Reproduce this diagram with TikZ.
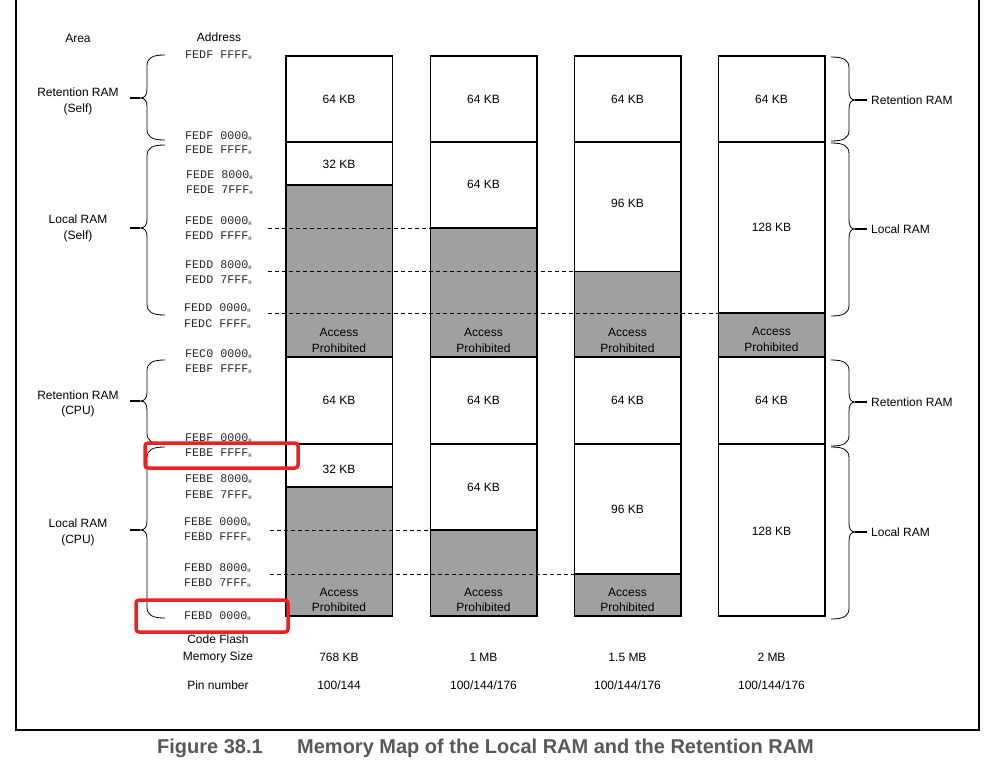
\documentclass[tikz,border=0pt]{standalone}
\usepackage{fontspec}
\setmainfont{Liberation Sans}
\newfontfamily\addrfont{Liberation Mono}
\usetikzlibrary{positioning}

\definecolor{prohibgray}{RGB}{160,160,160}
\definecolor{capgray}{RGB}{88,88,88}
\definecolor{markred}{RGB}{238,32,36}

% address with the small H suffix
\newcommand{\addr}[1]{#1\raisebox{-1pt}{\fontsize{5.5}{5.5}\selectfont H}}

% curly brace opening to the right (top, tip, bottom)
\newcommand{\mapbraceL}[3]{%
  \draw[curl] (165,#1) .. controls (152,#1) and (147,#1+3) .. (147,#1+11)
    -- (147,#2-9) .. controls (147,#2-3) and (145,#2) .. (140,#2)
    .. controls (145,#2) and (147,#2+3) .. (147,#2+9)
    -- (147,#3-11) .. controls (147,#3-3) and (152,#3) .. (165,#3);
  \draw[curl tail] (140,#2) -- (130,#2);}

% curly brace opening to the left (top, tip, bottom)
\newcommand{\mapbraceR}[3]{%
  \draw[curl] (831,#1) .. controls (844,#1) and (849,#1+3) .. (849,#1+11)
    -- (849,#2-9) .. controls (849,#2-3) and (851,#2) .. (855,#2)
    .. controls (851,#2) and (849,#2+3) .. (849,#2+9)
    -- (849,#3-11) .. controls (849,#3-3) and (844,#3) .. (831,#3);
  \draw[curl tail] (855,#2) -- (867,#2);}

\begin{document}
\begin{tikzpicture}[x=1pt, y=-1pt,
    every node/.style={font=\fontsize{12}{15.5}\selectfont, inner sep=0pt},
    ram/.style={draw, line width=1.2pt, fill=white},
    prohib/.style={draw, line width=1.2pt, fill=prohibgray},
    addrlab/.style={anchor=west, font=\fontsize{11.7}{14}\selectfont\addrfont, text=black!85},
    bound/.style={dash pattern=on 4pt off 3pt, line width=0.8pt},
    curl/.style={line width=0.8pt},
    curl tail/.style={line width=1.5pt},
    redmark/.style={draw=markred, line width=3.5pt, rounded corners=3pt}]
    \useasboundingbox (0,0) rectangle (999,771);

    % Frame
    \draw[line width=1.4pt] (16,-2) -- (16,730) -- (979,730) -- (979,-2);

    % Headings
    \node (area) at (78,38) {Area};
    \node (address) at (219,37) {Address};

    % Upper half: Self
    \draw[prohib] (286,185) rectangle (392.5,357);
    \draw[ram] (286,56) rectangle (392.5,142);
    \draw[ram] (286,142) rectangle (392.5,185);
    \draw[prohib] (430.5,228) rectangle (537,357);
    \draw[ram] (430.5,56) rectangle (537,142);
    \draw[ram] (430.5,142) rectangle (537,228);
    \draw[prohib] (574.5,271.5) rectangle (681,357);
    \draw[ram] (574.5,56) rectangle (681,142);
    \draw[ram] (574.5,142) rectangle (681,271.5);
    \draw[prohib] (718.5,313) rectangle (825,357);
    \draw[ram] (718.5,56) rectangle (825,142);
    \draw[ram] (718.5,142) rectangle (825,313);

    % Lower half: CPU
    \draw[prohib] (286,487) rectangle (392.5,616);
    \draw[ram] (286,357) rectangle (392.5,444);
    \draw[ram] (286,444) rectangle (392.5,487);
    \draw[prohib] (430.5,530) rectangle (537,616);
    \draw[ram] (430.5,357) rectangle (537,444);
    \draw[ram] (430.5,444) rectangle (537,530);
    \draw[prohib] (574.5,574) rectangle (681,616);
    \draw[ram] (574.5,357) rectangle (681,444);
    \draw[ram] (574.5,444) rectangle (681,574);
    \draw[ram] (718.5,357) rectangle (825,444);
    \draw[ram] (718.5,444) rectangle (825,616);

    % Dashed boundaries
    \draw[bound] (268,228) -- (430.5,228);
    \draw[bound] (268,271.5) -- (574.5,271.5);
    \draw[bound] (268,313) -- (718.5,313);
    \draw[bound] (270,530) -- (430.5,530);
    \draw[bound] (270,574) -- (574.5,574);

    % Sizes
    \node (ret1s) at (339,99) {64 KB};
    \node (ret2s) at (483.5,99) {64 KB};
    \node (ret3s) at (627.5,99) {64 KB};
    \node (ret4s) at (771.5,99) {64 KB};
    \node (loc1s) at (339,164) {32 KB};
    \node (loc2s) at (483.5,184) {64 KB};
    \node (loc3s) at (627.5,203) {96 KB};
    \node (loc4s) at (771.5,227) {128 KB};
    \node (ret1c) at (339,400) {64 KB};
    \node (ret2c) at (483.5,400) {64 KB};
    \node (ret3c) at (627.5,400) {64 KB};
    \node (ret4c) at (771.5,400) {64 KB};
    \node (loc1c) at (339,469) {32 KB};
    \node (loc2c) at (483.5,487) {64 KB};
    \node (loc3c) at (627.5,509) {96 KB};
    \node (loc4c) at (771.5,531) {128 KB};

    % Access prohibited labels
    \node[align=center] (ap1s) at (339,340.5) {Access\\Prohibited};
    \node[align=center] (ap2s) at (483.5,340.5) {Access\\Prohibited};
    \node[align=center] (ap3s) at (627.5,340.5) {Access\\Prohibited};
    \node[align=center] (ap4s) at (771.5,339.5) {Access\\Prohibited};
    \node[align=center] (ap1c) at (339,600) {Access\\Prohibited};
    \node[align=center] (ap2c) at (483.5,600) {Access\\Prohibited};
    \node[align=center] (ap3c) at (627.5,600) {Access\\Prohibited};

    % Addresses
    \node[addrlab] (a1) at (185,55) {\addr{FEDF FFFF}};
    \node[addrlab] (a2) at (185,136) {\addr{FEDF 0000}};
    \node[addrlab] (a3) at (185,150.5) {\addr{FEDE FFFF}};
    \node[addrlab] (a4) at (186,175) {\addr{FEDE 8000}};
    \node[addrlab] (a5) at (186,190) {\addr{FEDE 7FFF}};
    \node[addrlab] (a6) at (185,221) {\addr{FEDE 0000}};
    \node[addrlab] (a7) at (185,236) {\addr{FEDD FFFF}};
    \node[addrlab] (a8) at (185,265) {\addr{FEDD 8000}};
    \node[addrlab] (a9) at (185,280) {\addr{FEDD 7FFF}};
    \node[addrlab] (a10) at (184,308.5) {\addr{FEDD 0000}};
    \node[addrlab] (a11) at (184,324) {\addr{FEDC FFFF}};
    \node[addrlab] (a12) at (185,354) {\addr{FEC0 0000}};
    \node[addrlab] (a13) at (185,369) {\addr{FEBF FFFF}};
    \node[addrlab] (a14) at (185,438) {\addr{FEBF 0000}};
    \node[addrlab] (a15) at (185,453.5) {\addr{FEBE FFFF}};
    \node[addrlab] (a16) at (185,479.5) {\addr{FEBE 8000}};
    \node[addrlab] (a17) at (185,495.5) {\addr{FEBE 7FFF}};
    \node[addrlab] (a18) at (184,522.5) {\addr{FEBE 0000}};
    \node[addrlab] (a19) at (184,537) {\addr{FEBD FFFF}};
    \node[addrlab] (a20) at (184,568) {\addr{FEBD 8000}};
    \node[addrlab] (a21) at (184,583) {\addr{FEBD 7FFF}};
    \node[addrlab] (a22) at (184,616) {\addr{FEBD 0000}};

    % Area braces
    \mapbraceL{55}{98}{140}
    \mapbraceL{145}{228}{315}
    \mapbraceL{360}{401}{444}
    \mapbraceL{447}{530}{618}
    \node[align=center] (retself) at (78,101.5) {Retention RAM\\(Self)};
    \node[align=center] (locself) at (78,228.5) {Local RAM\\(Self)};
    \node[align=center] (retcpu) at (78,404) {Retention RAM\\(CPU)};
    \node[align=center] (loccpu) at (78,532.5) {Local RAM\\(CPU)};

    \mapbraceR{57}{100}{141}
    \mapbraceR{143}{229}{316}
    \mapbraceR{360}{402}{446}
    \mapbraceR{447}{532}{619}
    \node[anchor=west] (retr1) at (871,100.5) {Retention RAM};
    \node[anchor=west] (locr1) at (871,229) {Local RAM};
    \node[anchor=west] (retr2) at (871,402.5) {Retention RAM};
    \node[anchor=west] (locr2) at (871,532) {Local RAM};

    % Table below
    \node[align=center, font=\fontsize{12}{17}\selectfont] (flash) at (218,648.5) {Code Flash\\Memory Size};
    \node (pins) at (218,685) {Pin number};
    \node (size1) at (339,657) {768 KB};
    \node (size2) at (483.5,657) {1 MB};
    \node (size3) at (627.5,657) {1.5 MB};
    \node (size4) at (771.5,657) {2 MB};
    \node (pin1) at (339,685) {100/144};
    \node (pin2) at (483.5,685) {100/144/176};
    \node (pin3) at (627.5,685) {100/144/176};
    \node (pin4) at (771.5,685) {100/144/176};

    % Red highlights
    \draw[redmark] (145,443) rectangle (298,468);
    \draw[redmark] (136,600) rectangle (288,632);

    % Caption
    \node[anchor=west, font=\fontsize{20}{22}\selectfont\bfseries, text=capgray] (fig) at (157,748) {Figure 38.1};
    \node[anchor=west, font=\fontsize{20}{22}\selectfont\bfseries, text=capgray] (title) at (297,748) {Memory Map of the Local RAM and the Retention RAM};
\end{tikzpicture}
\end{document}
